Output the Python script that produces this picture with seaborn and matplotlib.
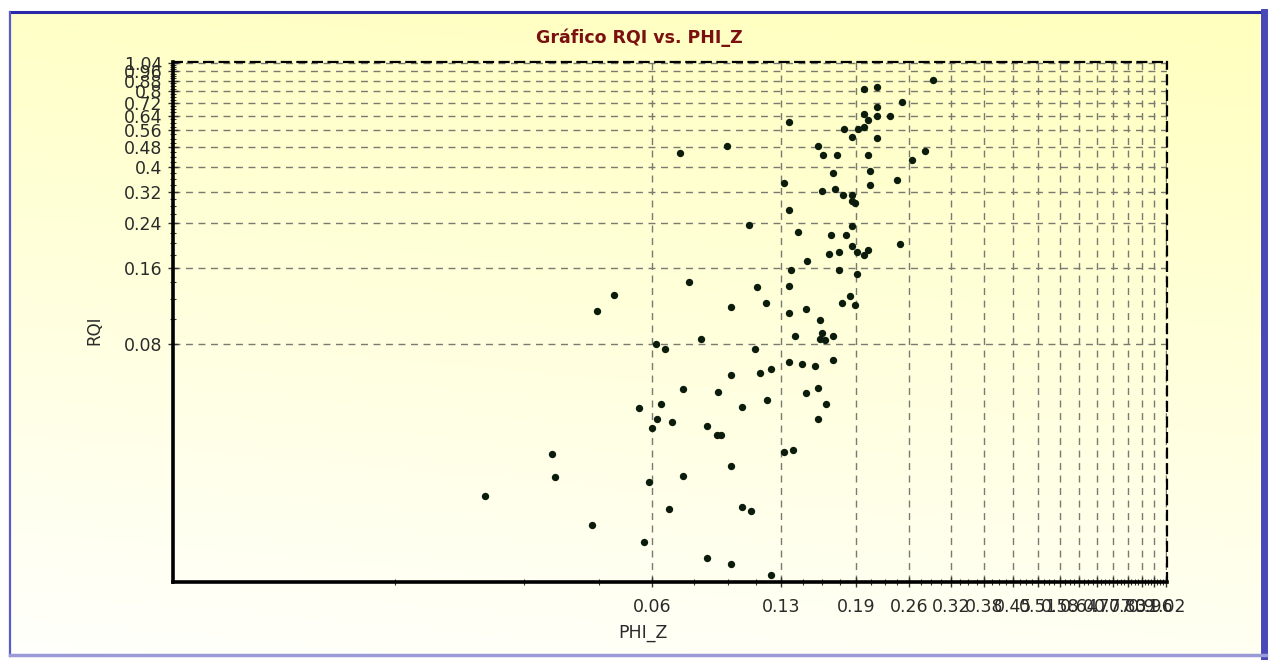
import numpy as np
import pandas as pd
import matplotlib
matplotlib.use("Agg")
import matplotlib.pyplot as plt
import seaborn as sns
from matplotlib.ticker import FixedLocator, FixedFormatter, NullFormatter
from matplotlib.lines import Line2D

# Porosity (PHI_Z) and reservoir quality index (RQI) samples
phi_z = [
    0.0741, 0.0778, 0.0520, 0.0476,
    0.291, 0.2004, 0.2153, 0.2465, 0.2153, 0.2004, 0.2048, 0.2153, 0.2301, 0.1338,
    0.1802, 0.1944, 0.2004, 0.1875, 0.2153, 0.0957, 0.1566, 0.1603, 0.1729, 0.2048,
    0.2779, 0.2591, 0.2074, 0.1696, 0.2070, 0.2399, 0.1299, 0.1601, 0.1717, 0.1786,
    0.1875, 0.1882, 0.1909, 0.1338, 0.1078, 0.1875, 0.1404, 0.1681, 0.1815, 0.2438,
    0.1875, 0.2048, 0.1926, 0.2004, 0.1662, 0.1749, 0.1476, 0.1349, 0.1749, 0.1930,
    0.1123, 0.1338, 0.1855, 0.1179, 0.1783, 0.1909, 0.0979, 0.1463, 0.1338, 0.1583,
    0.0834, 0.0653, 0.0686, 0.0755, 0.0597, 0.0671, 0.0658, 0.0712, 0.0640, 0.0858,
    0.0372, 0.0379, 0.0755, 0.0260, 0.0627, 0.0699, 0.0462, 0.0613, 0.0858,
    0.1382, 0.1601, 0.1583, 0.1621, 0.1699, 0.1111, 0.1338, 0.1437, 0.1539, 0.1699,
    0.0977, 0.1144, 0.1214, 0.0912, 0.1463, 0.1566, 0.1036, 0.1190, 0.1629, 0.1566,
    0.0907, 0.0925, 0.1299, 0.1367, 0.0977, 0.1036, 0.1088, 0.0977, 0.1214,
]
rqi = [
    0.455, 0.141, 0.125, 0.108,
    0.887, 0.820, 0.835, 0.728, 0.693, 0.650, 0.616, 0.637, 0.637, 0.607,
    0.565, 0.565, 0.577, 0.529, 0.521, 0.487, 0.487, 0.447, 0.447, 0.447,
    0.464, 0.426, 0.386, 0.379, 0.341, 0.355, 0.347, 0.321, 0.327, 0.310,
    0.310, 0.294, 0.289, 0.271, 0.237, 0.234, 0.222, 0.215, 0.215, 0.198,
    0.195, 0.188, 0.184, 0.179, 0.182, 0.184, 0.170, 0.156, 0.156, 0.151,
    0.134, 0.136, 0.124, 0.116, 0.116, 0.114, 0.112, 0.110, 0.106, 0.0996,
    0.0838, 0.0800, 0.0759, 0.0527, 0.0446, 0.0461, 0.0402, 0.0390, 0.0370, 0.0376,
    0.0293, 0.0237, 0.0240, 0.0200, 0.0227, 0.0177, 0.0153, 0.0131, 0.0113,
    0.0855, 0.0882, 0.0838, 0.0825, 0.0855, 0.0759, 0.0677, 0.0666, 0.0654, 0.0687,
    0.0603, 0.0612, 0.0633, 0.0517, 0.0510, 0.0535, 0.0451, 0.0477, 0.0461, 0.0403,
    0.0347, 0.0347, 0.0299, 0.0304, 0.0261, 0.0180, 0.0174, 0.0107, 0.0097,
]

x_tick_values = [0.064, 0.128, 0.192, 0.256, 0.32, 0.384, 0.448, 0.512,
                 0.576, 0.64, 0.704, 0.768, 0.832, 0.896, 0.96, 1.024]
x_tick_labels = ["0.06", "0.13", "0.19", "0.26", "0.32", "0.38", "0.45", "0.51",
                 "0.58", "0.64", "0.7", "0.77", "0.83", "0.9", "0.96", "1.02"]
y_tick_values = [0.08, 0.16, 0.24, 0.32, 0.40, 0.48, 0.56, 0.64,
                 0.72, 0.80, 0.88, 0.96, 1.04]
y_tick_labels = ["0.08", "0.16", "0.24", "0.32", "0.4", "0.48", "0.56", "0.64",
                 "0.72", "0.8", "0.88", "0.96", "1.04"]
x_minor_values = [0.016 * k for k in range(1, 65) if k % 4]
y_minor_values = [0.02 * k for k in range(4, 53) if k % 4]

df = pd.DataFrame({"PHI_Z": phi_z, "RQI": rqi})

W, H = 1272, 660
fig = plt.figure(figsize=(W / 100, H / 100), dpi=100, facecolor="white")

# Yellow-to-white panel background with a blue frame
bg = fig.add_axes([0, 0, 1, 1], zorder=-10)
bg.set_xlim(0, W)
bg.set_ylim(H, 0)
bg.axis("off")
yy, xx = np.mgrid[0:1:200j, 0:1:400j]
t = np.clip(0.85 * yy + 0.15 * (1 - xx), 0, 1)
top = np.array([255, 255, 190]) / 255
bot = np.array([255, 255, 252]) / 255
grad = top[None, None, :] * (1 - t[..., None]) + bot[None, None, :] * t[..., None]
bg.imshow(grad, extent=[10, 1264, 655, 12], aspect="auto", zorder=0)
bg.add_line(Line2D([10, 1264], [12, 12], color="#2a2aa8", lw=2.2, zorder=2))
bg.add_line(Line2D([10, 10], [12, 656], color="#5a5ac8", lw=1.6, zorder=2))
bg.add_line(Line2D([1264, 1264], [12, 656], color="#4848b8", lw=5, zorder=2))
bg.add_line(Line2D([10, 1266], [655, 655], color="#9a9ad8", lw=2.5, zorder=2))

ax = fig.add_axes([173 / W, 1 - 582 / H, (1167 - 173) / W, (582 - 62) / H])
ax.set_facecolor("none")
ax.set_xscale("log")
ax.set_yscale("log")

sns.scatterplot(data=df, x="PHI_Z", y="RQI", ax=ax, color="#0c1c0c",
                s=28, marker="o", linewidth=0, zorder=5, legend=False)

ax.set_xlim(0.00482, 1.028)
ax.set_ylim(0.0091, 1.045)

ax.xaxis.set_major_locator(FixedLocator(x_tick_values))
ax.xaxis.set_major_formatter(FixedFormatter(x_tick_labels))
ax.xaxis.set_minor_locator(FixedLocator(x_minor_values))
ax.xaxis.set_minor_formatter(NullFormatter())
ax.yaxis.set_major_locator(FixedLocator(y_tick_values))
ax.yaxis.set_major_formatter(FixedFormatter(y_tick_labels))
ax.yaxis.set_minor_locator(FixedLocator(y_minor_values))
ax.yaxis.set_minor_formatter(NullFormatter())

for lab in ax.get_xticklabels() + ax.get_yticklabels():
    lab.set_fontfamily("DejaVu Sans")
    lab.set_fontsize(12.5)
    lab.set_color("#2a2a2a")

ax.tick_params(axis="both", which="major", direction="inout", length=7,
               width=1.0, color="#333333")
ax.tick_params(axis="both", which="minor", direction="inout", length=4,
               width=0.8, color="#333333")
ax.tick_params(axis="x", which="major", pad=8)
ax.tick_params(axis="y", which="major", pad=4)

ax.grid(True, which="major", color="#7a7a70", linestyle=(0, (5, 4)), lw=1.0)
ax.set_axisbelow(True)

for side in ("left", "bottom"):
    ax.spines[side].set_linewidth(2.6)
    ax.spines[side].set_color("black")
for side in ("top", "right"):
    ax.spines[side].set_linewidth(1.6)
    ax.spines[side].set_color("black")
    ax.spines[side].set_linestyle((0, (4, 3)))

ax.set_xlabel("PHI_Z", fontsize=12.5, color="#2a2a2a", family="DejaVu Sans")
ax.set_ylabel("RQI", fontsize=12, color="#2a2a2a", family="DejaVu Sans")
ax.xaxis.set_label_coords((643 - 173) / 994, -(624 - 582) / 520)
ax.yaxis.set_label_coords((103 - 173) / 994, (582 - 330) / 520)

fig.text(639 / W, 1 - 38 / H, "Gráfico RQI vs. PHI_Z", ha="center", va="center",
         fontsize=12.5, fontweight="bold", color="#7a1010",
         family=["Liberation Sans Narrow", "DejaVu Sans"])

fig.savefig("out.png", dpi=100, facecolor="white")
